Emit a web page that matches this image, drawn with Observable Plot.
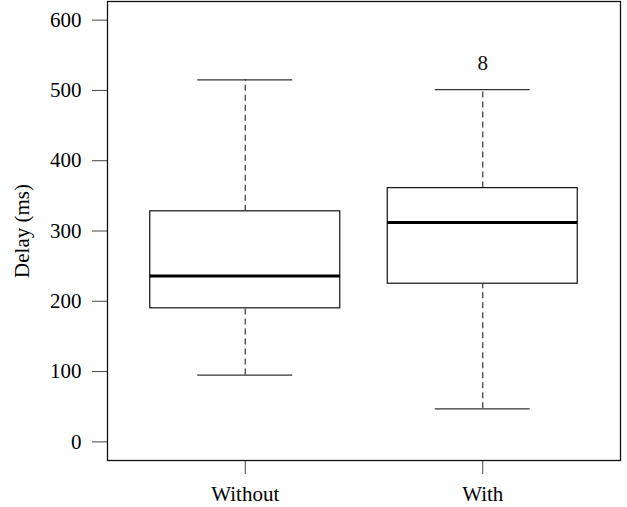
<!DOCTYPE html>
<html>
<head>
<meta charset="utf-8">
<script src="https://cdn.jsdelivr.net/npm/d3@7"></script>
<script src="https://cdn.jsdelivr.net/npm/@observablehq/plot@0.6"></script>
<style>
  html, body { margin: 0; padding: 0; background: #fff; }
  svg { display: block; }
</style>
</head>
<body>
<div id="chart"></div>
<script>
const categories = ["Without", "With"];
const whiskerLow = [95, 47];
const q1 = [190, 225];
const median = [236, 312];
const q3 = [328, 361];
const whiskerHigh = [515, 501];
const outlierLabels = [{cat: "With", value: 538, label: "8"}];
const yTicks = [0, 100, 200, 300, 400, 500, 600];
const yLabel = "Delay (ms)";

const data = categories.map((c, i) => ({
  cat: c, pos: i + 1,
  lo: whiskerLow[i], q1: q1[i], med: median[i], q3: q3[i], hi: whiskerHigh[i]
}));
const pos = c => categories.indexOf(c) + 1;
const halfBox = 0.4, halfCap = 0.2;
const font = "Liberation Serif, Times New Roman, serif";
const fs = 21;

const chart = Plot.plot({
  width: 627,
  height: 507,
  marginLeft: 107,
  marginRight: 7,
  marginTop: 1,
  marginBottom: 47,
  style: {fontFamily: font, fontSize: fs + "px", color: "#000", background: "#fff"},
  x: {domain: [0.42, 2.58], axis: null},
  y: {domain: [-26.5, 626.5], axis: null},
  marks: [
    Plot.axisY({ticks: yTicks, tickSize: 15, tickPadding: 11, label: null, stroke: "#444", fontSize: fs}),
    Plot.axisX({ticks: categories.map(pos), tickFormat: d => categories[d - 1], tickSize: 14, tickPadding: 11.5, label: null, stroke: "#444", fontSize: fs}),
    Plot.text([yLabel], {frameAnchor: "left", textAnchor: "middle", dx: -85, rotate: -90, text: d => d, fontSize: fs}),
    // whiskers
    Plot.ruleX(data, {x: "pos", y1: "q3", y2: "hi", stroke: "#333", strokeDasharray: "6,4", strokeWidth: 1.2}),
    Plot.ruleX(data, {x: "pos", y1: "lo", y2: "q1", stroke: "#333", strokeDasharray: "6,4", strokeWidth: 1.2}),
    // caps
    Plot.ruleY(data, {y: "hi", x1: d => d.pos - halfCap, x2: d => d.pos + halfCap, stroke: "#333", strokeWidth: 1.3}),
    Plot.ruleY(data, {y: "lo", x1: d => d.pos - halfCap, x2: d => d.pos + halfCap, stroke: "#333", strokeWidth: 1.3}),
    // boxes
    Plot.rect(data, {x1: d => d.pos - halfBox, x2: d => d.pos + halfBox, y1: "q1", y2: "q3", fill: "white", stroke: "#111", strokeWidth: 1.2}),
    // medians
    Plot.ruleY(data, {y: "med", x1: d => d.pos - halfBox, x2: d => d.pos + halfBox, stroke: "#000", strokeWidth: 3}),
    // outlier labels
    Plot.text(outlierLabels, {x: d => pos(d.cat), y: "value", text: "label", fontSize: fs, fill: "#111"}),
    Plot.frame({stroke: "#111", strokeWidth: 1.3})
  ]
});
document.getElementById("chart").appendChild(chart);
</script>
</body>
</html>
